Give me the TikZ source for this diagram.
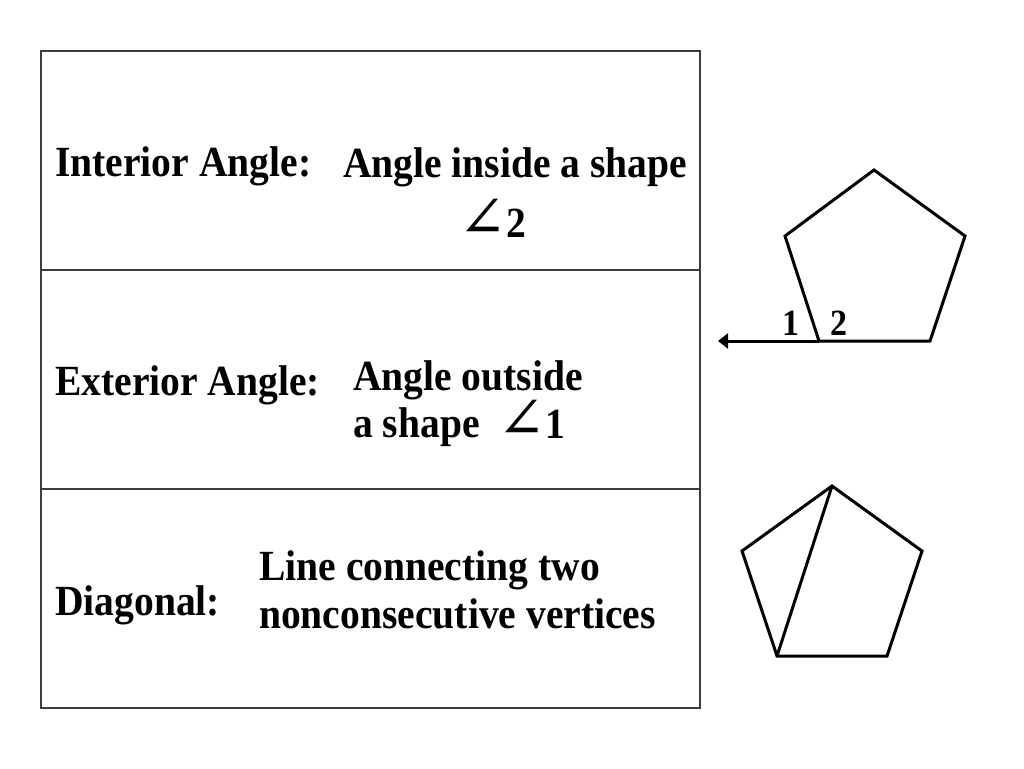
\documentclass[tikz,border=0pt]{standalone}
\usepackage{fontspec}
\setmainfont{Liberation Serif}[FakeStretch=0.92]
\newfontfamily\anglefont{DejaVu Serif}
\usetikzlibrary{arrows.meta}
\definecolor{GridGray}{RGB}{60,60,60}
\newcommand{\angsym}{{\anglefont\mdseries\fontsize{58}{60}\selectfont ∠}}
\tikzset{
    cellbox/.style={
        draw=GridGray, line width=1.5pt
    },
    shapeline/.style={
        draw, line width=3pt, line join=miter
    },
    termtext/.style={
        inner sep=0pt, anchor=base west, font=\bfseries\fontsize{43}{50}\selectfont
    },
    vertexlbl/.style={
        inner sep=0pt, anchor=base, font=\bfseries\fontsize{37}{42}\selectfont
    },
    rayptr/.style={
        -{Triangle[length=10pt,width=15pt]}, line width=3pt
    }
}
\begin{document}
\begin{tikzpicture}[x=1pt, y=-1pt]
                \useasboundingbox (0,0) rectangle (1024,768);
                % table
                \draw[cellbox] (41,51) rectangle (700,708);
                \draw[cellbox] (41,270) -- (700,270);
                \draw[cellbox] (41,489) -- (700,489);
                % rows
                \node[termtext] (interior) at (55,176) {Interior Angle:};
                \node[termtext] (inside) at (343,177) {Angle inside a shape};
                \node[termtext] (angtwo) at (458,237) {\angsym2};
                \node[termtext] (exterior) at (55,395) {Exterior Angle:};
                \node[termtext] (outside) at (353,390) {Angle outside};
                \node[termtext] (ashape) at (353,437) {a shape};
                \node[termtext] (angone) at (497,438) {\angsym1};
                \node[termtext] (diagonal) at (55,615) {Diagonal:};
                \node[termtext] (connect) at (259,580) {Line connecting two};
                \node[termtext] (noncons) at (259,628) {nonconsecutive vertices};
                % pentagon with exterior angle
                \coordinate (pa-t) at (874,170);
                \coordinate (pa-l) at (785,236);
                \coordinate (pa-r) at (965,236);
                \coordinate (pa-bl) at (819,341);
                \coordinate (pa-br) at (930,341);
                \coordinate (tip) at (718,341);
                \draw[shapeline] (pa-t) -- (pa-r) -- (pa-br) -- (pa-bl) -- (pa-l) -- cycle;
                \draw[rayptr] (pa-bl) -- (tip);
                \node[vertexlbl] (lblone) at (791,335) {1};
                \node[vertexlbl] (lbltwo) at (839,335) {2};
                % pentagon with diagonal
                \coordinate (pb-t) at (832,486);
                \coordinate (pb-l) at (742,551);
                \coordinate (pb-r) at (922,551);
                \coordinate (pb-bl) at (777,656);
                \coordinate (pb-br) at (887,656);
                \draw[shapeline] (pb-t) -- (pb-r) -- (pb-br) -- (pb-bl) -- (pb-l) -- cycle;
                \draw[shapeline] (pb-t) -- (pb-bl);
            \end{tikzpicture}
\end{document}
